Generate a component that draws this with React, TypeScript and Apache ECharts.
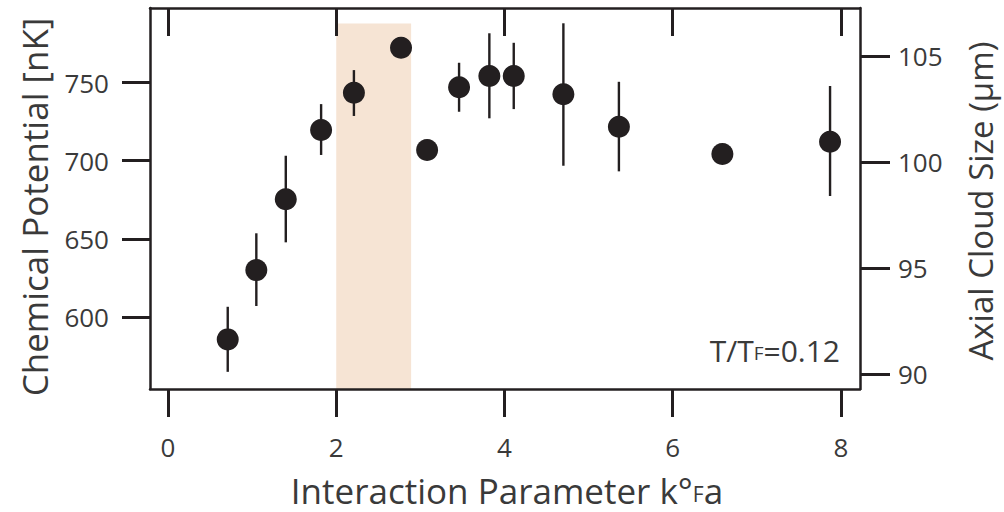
import React, { useEffect, useRef } from "react";
import * as echarts from "echarts";

// Interaction parameter k_F a
const xValues = [0.71, 1.05, 1.40, 1.82, 2.21, 2.77, 3.08, 3.46, 3.82, 4.11, 4.70, 5.36, 6.59, 7.87];
// Chemical potential [nK]
const muValues = [585.5, 629.9, 675.3, 719.7, 743.6, 772.4, 706.9, 747.1, 754.3, 754.3, 742.6, 721.8, 704.3, 712.2];
const errLow: (number | null)[] = [564.7, 606.9, 647.7, 703.7, 728.7, null, null, 731.4, 727.2, 733.1, 696.8, 693.2, null, 677.4];
const errHigh: (number | null)[] = [606.4, 653.5, 703.2, 736.3, 758.1, null, null, 762.8, 781.7, 775.6, 788.1, 750.6, null, 747.9];

// Shaded region
const bandX = [2.0, 2.89];
const bandTop = 788;

// Ticks
const xTicks = [0, 2, 4, 6, 8];
const muTicks = [600, 650, 700, 750];
const sizeTicks = [90, 95, 100, 105];

const X_MIN = -0.214;
const X_MAX = 8.226;
const MU_MIN = 553.7;
const MU_MAX = 797.9;
const SIZE_MIN = 89.3;
const SIZE_MAX = 107.29;

const INK = "#231f20";
const TEXT = "#3a3a3a";
const FONT = "'Open Sans', 'Noto Sans', sans-serif";
const BAND = "#f6e4d4";

export default function App() {
  const ref = useRef<HTMLDivElement>(null);

  useEffect(() => {
    if (!ref.current) return;
    const chart = echarts.init(ref.current, undefined, { renderer: "svg" });

    const scatterData = xValues.map((x, i) => [x, muValues[i]]);
    const errData: number[][] = [];
    xValues.forEach((x, i) => {
      const lo = errLow[i];
      const hi = errHigh[i];
      if (lo != null && hi != null) errData.push([x, lo, hi]);
    });

    const axisLine = { show: true, onZero: false, lineStyle: { color: INK, width: 2.5 } };
    const tickStyle = { color: INK, width: 3 };
    const labelStyle = { color: TEXT, fontSize: 26, fontFamily: FONT };

    chart.setOption({
      animation: false,
      backgroundColor: "#ffffff",
      grid: { left: 150, top: 8, right: 144, bottom: 123, containLabel: false },
      xAxis: [
        {
          type: "value",
          position: "bottom",
          min: X_MIN,
          max: X_MAX,
          z: 10,
          axisLine,
          axisTick: { show: true, inside: false, length: 28, customValues: xTicks, lineStyle: tickStyle },
          axisLabel: { show: true, customValues: xTicks, margin: 45, ...labelStyle },
          splitLine: { show: false },
        },
        {
          type: "value",
          position: "top",
          min: X_MIN,
          max: X_MAX,
          z: 10,
          axisLine,
          axisTick: { show: true, inside: true, length: 28, customValues: xTicks, lineStyle: tickStyle },
          axisLabel: { show: false },
          splitLine: { show: false },
        },
      ],
      yAxis: [
        {
          type: "value",
          position: "left",
          min: MU_MIN,
          max: MU_MAX,
          z: 10,
          axisLine,
          axisTick: { show: true, inside: false, length: 28, customValues: muTicks, lineStyle: tickStyle },
          axisLabel: { show: true, customValues: muTicks, margin: 41, ...labelStyle },
          splitLine: { show: false },
        },
        {
          type: "value",
          position: "right",
          min: SIZE_MIN,
          max: SIZE_MAX,
          z: 10,
          axisLine,
          axisTick: { show: true, inside: false, length: 30, customValues: sizeTicks, lineStyle: tickStyle },
          axisLabel: { show: true, customValues: sizeTicks, margin: 38, ...labelStyle },
          splitLine: { show: false },
        },
      ],
      series: [
        {
          type: "custom",
          xAxisIndex: 0,
          yAxisIndex: 0,
          z: 1,
          silent: true,
          data: [[bandX[0], bandX[1], bandTop, MU_MIN]],
          renderItem: (params: any, api: any) => {
            const p0 = api.coord([api.value(0), api.value(2)]);
            const p1 = api.coord([api.value(1), api.value(3)]);
            return {
              type: "rect",
              shape: { x: p0[0], y: p0[1], width: p1[0] - p0[0], height: p1[1] - p0[1] },
              style: { fill: BAND },
            };
          },
        },
        {
          type: "custom",
          xAxisIndex: 0,
          yAxisIndex: 0,
          z: 3,
          silent: true,
          data: errData,
          renderItem: (params: any, api: any) => {
            const a = api.coord([api.value(0), api.value(1)]);
            const b = api.coord([api.value(0), api.value(2)]);
            return {
              type: "line",
              shape: { x1: a[0], y1: a[1], x2: b[0], y2: b[1] },
              style: { stroke: INK, lineWidth: 2.4 },
            };
          },
        },
        {
          type: "scatter",
          xAxisIndex: 0,
          yAxisIndex: 0,
          z: 4,
          symbol: "circle",
          symbolSize: 22,
          itemStyle: { color: INK, opacity: 1 },
          data: scatterData,
        },
      ],
      graphic: [
        {
          type: "text",
          x: 34,
          y: 207,
          rotation: Math.PI / 2,
          style: {
            text: "Chemical Potential [nK]",
            fill: TEXT,
            font: `35px ${FONT}`,
            textAlign: "center",
            textVerticalAlign: "middle",
          },
        },
        {
          type: "text",
          x: 980,
          y: 201,
          rotation: Math.PI / 2,
          style: {
            text: "Axial Cloud Size (μm)",
            fill: TEXT,
            font: `33px ${FONT}`,
            textAlign: "center",
            textVerticalAlign: "middle",
          },
        },
        {
          type: "text",
          x: 507,
          y: 490,
          style: {
            text: "Interaction Parameter k{deg|°}{f|F}a",
            fill: TEXT,
            font: `35px ${FONT}`,
            textAlign: "center",
            textVerticalAlign: "middle",
            rich: {
              deg: { fontSize: 35, fontFamily: FONT, fill: TEXT, verticalAlign: "bottom" },
              f: { fontSize: 21, fontFamily: FONT, fill: TEXT, verticalAlign: "bottom", padding: [0, 0, 3, 0] },
            },
          },
        },
        {
          type: "text",
          x: 840,
          y: 350,
          style: {
            text: "T/T{f|F}=0.12",
            fill: TEXT,
            font: `30px ${FONT}`,
            textAlign: "right",
            textVerticalAlign: "middle",
            rich: {
              f: { fontSize: 19, fontFamily: FONT, fill: TEXT, verticalAlign: "bottom", padding: [0, 0, 3, 0] },
            },
          },
        },
      ],
    });

    return () => chart.dispose();
  }, []);

  return (
    <div
      ref={ref}
      style={{ position: "absolute", left: 0, top: 0, width: 1004, height: 512, background: "#fff" }}
    />
  );
}
